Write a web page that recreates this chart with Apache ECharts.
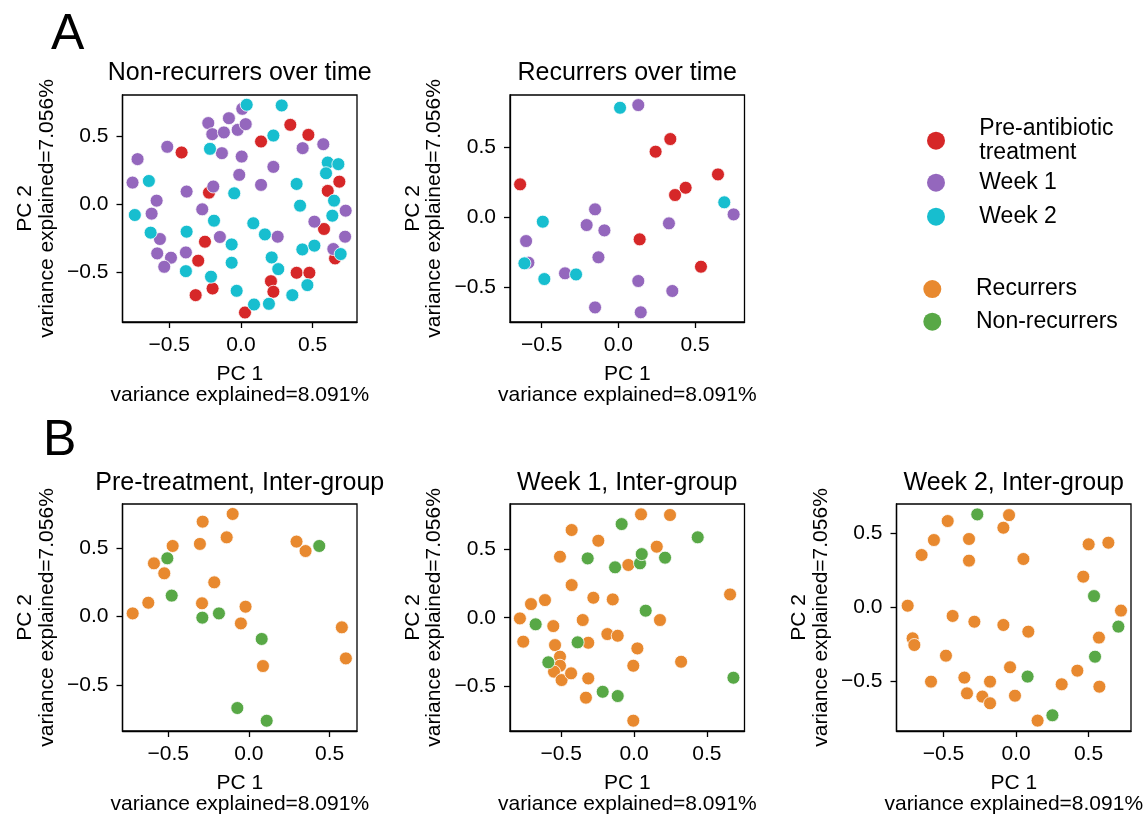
<!DOCTYPE html>
<html>
<head>
<meta charset="utf-8">
<script src="https://cdn.jsdelivr.net/npm/echarts@6/dist/echarts.min.js"></script>
<style>
html,body{margin:0;padding:0;background:#fff;}
#c{width:1146px;height:817px;}
</style>
</head>
<body>
<div id="c"></div>
<script>
// ---------- text ----------
const panelTitles = ['Non-recurrers over time', 'Recurrers over time',
  'Pre-treatment, Inter-group', 'Week 1, Inter-group', 'Week 2, Inter-group'];
const xAxisName = 'PC 1\nvariance explained=8.091%';
const yAxisName = 'PC 2\nvariance explained=7.056%';
const tickValues = [-0.5, 0, 0.5];
const timeNames = ['Pre-antibiotic treatment', 'Week 1', 'Week 2'];
const groupNames = ['Recurrers', 'Non-recurrers'];
const timeColors = ['#d62728', '#9467bd', '#17becf'];
const groupColors = ['#e8892f', '#58a846'];

// ---------- A: Non-recurrers over time ----------
const nrPre = [[-0.414,0.382],[0.140,0.463],[0.344,0.586],[0.470,0.512],[-0.223,0.086],[-0.251,-0.276],
  [-0.298,-0.416],[-0.316,-0.670],[-0.198,-0.621],[0.209,-0.567],[0.226,-0.645],[0.388,-0.505],
  [0.477,-0.505],[0.028,-0.798],[0.605,0.099],[0.686,0.167],[0.579,-0.182],[0.656,-0.399]];
const nrWeek1 = [[-0.721,0.333],[-0.756,0.160],[-0.588,0.027],[-0.623,-0.069],[-0.565,-0.256],[-0.584,-0.362],
  [-0.488,-0.394],[-0.535,-0.461],[-0.514,0.424],[-0.379,0.094],[-0.384,-0.355],[-0.270,-0.037],
  [-0.193,0.131],[-0.147,-0.241],[-0.228,0.599],[-0.200,0.517],[-0.133,0.377],[-0.119,0.530],
  [-0.084,0.635],[-0.023,0.549],[0.009,0.704],[0.033,0.591],[0.005,0.352],[-0.012,0.217],
  [0.140,0.143],[0.226,0.276],[0.256,-0.239],[0.430,0.414],[0.574,0.443],[0.512,-0.128],
  [0.730,-0.047],[0.726,-0.239],[0.644,-0.330]];
const nrWeek2 = [[-0.642,0.172],[-0.740,-0.079],[-0.630,-0.209],[-0.379,-0.202],[-0.384,-0.493],[-0.209,-0.534],
  [-0.216,0.409],[-0.188,-0.121],[-0.065,-0.296],[-0.065,-0.431],[-0.047,0.081],[-0.030,-0.638],
  [0.040,0.734],[0.086,-0.140],[0.167,-0.222],[0.226,0.507],[0.284,0.729],[0.214,-0.392],
  [0.260,-0.478],[0.091,-0.739],[0.195,-0.734],[0.358,-0.670],[0.463,-0.596],[0.428,-0.333],
  [0.512,-0.305],[0.388,0.150],[0.412,-0.010],[0.605,0.308],[0.679,0.296],[0.593,0.229],
  [0.649,0.027],[0.637,-0.084],[0.695,-0.367]];

// ---------- A: Recurrers over time ----------
const rPre = [[-0.641,0.233],[0.243,0.466],[0.339,0.556],[0.370,0.157],[0.439,0.209],[0.650,0.304],
  [0.139,-0.159],[0.539,-0.354]];
const rWeek1 = [[0.130,0.798],[-0.152,0.055],[-0.207,-0.057],[-0.091,-0.095],[-0.602,-0.171],[-0.587,-0.325],
  [-0.348,-0.401],[-0.130,-0.287],[0.330,-0.045],[0.752,0.019],[0.130,-0.456],[0.352,-0.527],
  [-0.152,-0.644],[0.146,-0.679]];
const rWeek2 = [[0.011,0.779],[-0.493,-0.033],[-0.613,-0.330],[-0.483,-0.442],[-0.276,-0.409],[0.691,0.105]];

// ---------- B: Pre-treatment ----------
const preRec = [[-0.721,0.024],[-0.624,0.102],[-0.589,0.390],[-0.525,0.317],[-0.473,0.517],[-0.304,0.532],
  [-0.287,0.695],[-0.101,0.751],[-0.138,0.580],[-0.215,0.251],[-0.291,0.098],[-0.021,0.073],
  [-0.050,-0.049],[0.087,-0.361],[0.295,0.549],[0.351,0.480],[0.576,-0.078],[0.601,-0.305]];
const preNon = [[-0.506,0.427],[-0.479,0.154],[-0.289,-0.007],[-0.186,0.024],[0.079,-0.163],[0.436,0.517],
  [-0.072,-0.668],[0.110,-0.761]];

// ---------- B: Week 1 ----------
const w1Rec = [[-0.783,-0.005],[-0.760,-0.174],[-0.707,0.099],[-0.611,0.128],[-0.554,-0.061],[-0.542,-0.199],
  [-0.508,-0.283],[-0.508,-0.349],[-0.549,-0.392],[-0.497,-0.453],[-0.432,-0.404],[-0.508,0.443],
  [-0.428,0.637],[-0.428,0.237],[-0.352,-0.017],[-0.314,-0.182],[-0.314,-0.441],[-0.330,-0.581],
  [-0.279,0.145],[-0.245,0.559],[-0.183,-0.119],[-0.112,-0.131],[-0.146,0.133],[-0.039,0.383],
  [0.023,-0.223],[-0.005,-0.349],[-0.005,-0.748],[0.048,0.751],[0.247,0.746],[0.156,0.516],
  [0.178,-0.017],[0.323,-0.320],[0.659,0.169]];
const w1Non = [[-0.675,-0.048],[-0.588,-0.324],[-0.387,-0.179],[-0.318,0.431],[-0.215,-0.538],[-0.112,-0.569],
  [-0.130,0.366],[-0.085,0.680],[0.041,0.395],[0.053,0.462],[0.213,0.436],[0.080,0.051],
  [0.437,0.584],[0.682,-0.436]];

// ---------- B: Week 2 ----------
const w2Rec = [[-0.747,0.011],[-0.713,-0.209],[-0.701,-0.254],[-0.651,0.353],[-0.566,0.454],[-0.586,-0.501],
  [-0.471,0.582],[-0.483,-0.326],[-0.437,-0.058],[-0.324,0.461],[-0.324,0.315],[-0.356,-0.474],
  [-0.338,-0.580],[-0.287,-0.097],[-0.232,-0.602],[-0.179,-0.647],[-0.179,-0.501],[-0.087,0.537],
  [-0.048,0.622],[-0.087,-0.119],[-0.041,-0.404],[-0.007,-0.596],[0.051,0.326],[0.085,-0.164],
  [0.149,-0.764],[0.315,-0.519],[0.423,-0.427],[0.464,0.207],[0.501,0.425],[0.637,0.436],
  [0.572,-0.204],[0.575,-0.535],[0.724,-0.022]];
const w2Non = [[-0.267,0.627],[0.538,0.076],[0.706,-0.130],[0.545,-0.333],[0.080,-0.467],[0.251,-0.728]];

// ---------- layout (pixels / axis ranges) ----------
const FONT = '"Liberation Sans", Arial, Helvetica, sans-serif';
const panels = [
  {left:122.5, top:95,  xMin:-0.826, xMax:0.809, yMin:-0.868, yMax:0.806,
   sets:[[timeNames[0],nrPre,timeColors[0]],[timeNames[1],nrWeek1,timeColors[1]],[timeNames[2],nrWeek2,timeColors[2]]]},
  {left:510,   top:95,  xMin:-0.707, xMax:0.823, yMin:-0.748, yMax:0.870,
   sets:[[timeNames[0],rPre,timeColors[0]],[timeNames[1],rWeek1,timeColors[1]],[timeNames[2],rWeek2,timeColors[2]]]},
  {left:122.5, top:504, xMin:-0.784, xMax:0.670, yMin:-0.836, yMax:0.824,
   sets:[[groupNames[0],preRec,groupColors[0]],[groupNames[1],preNon,groupColors[1]]]},
  {left:510,   top:504, xMin:-0.851, xMax:0.758, yMin:-0.823, yMax:0.826,
   sets:[[groupNames[0],w1Rec,groupColors[0]],[groupNames[1],w1Non,groupColors[1]]]},
  {left:896.5, top:504, xMin:-0.824, xMax:0.793, yMin:-0.834, yMax:0.697,
   sets:[[groupNames[0],w2Rec,groupColors[0]],[groupNames[1],w2Non,groupColors[1]]]}
];
const W = 234.5, H = 227;

const fmt = v => (v < 0 ? '\u2212' : '') + Math.abs(v).toFixed(1);
const lineStyle = {color:'#000', width:1.3};

const grids = [], xAxes = [], yAxes = [], series = [], titles = [];
panels.forEach((p, i) => {
  grids.push({left:p.left, top:p.top, width:W, height:H, show:true, borderColor:'#000', borderWidth:1.3,
    backgroundColor:'transparent', containLabel:false, outerBoundsMode:'none'});
  const common = {
    gridIndex:i, type:'value', splitLine:{show:false},
    axisLine:{show:true, onZero:false, lineStyle},
    axisTick:{show:true, length:6, lineStyle, customValues:tickValues},
    axisLabel:{show:true, customValues:tickValues, formatter:fmt, fontSize:21, color:'#000', fontFamily:FONT},
    nameLocation:'middle',
    nameTextStyle:{fontSize:21, lineHeight:21.5, color:'#000', fontFamily:FONT}
  };
  xAxes.push(Object.assign({}, common, {min:p.xMin, max:p.xMax, name:xAxisName, nameGap:41,
    axisLabel:Object.assign({}, common.axisLabel, {margin:13})}));
  yAxes.push(Object.assign({}, common, {min:p.yMin, max:p.yMax, name:yAxisName, nameGap:65, nameRotate:90,
    axisLabel:Object.assign({}, common.axisLabel, {margin:14})}));
  p.sets.forEach(s => {
    series.push({type:'scatter', name:s[0], xAxisIndex:i, yAxisIndex:i, data:s[1], symbol:'circle', symbolSize:13,
      itemStyle:{color:s[2], borderColor:'#fff', borderWidth:0.8, opacity:1}, emphasis:{disabled:true}});
  });
  titles.push({text:panelTitles[i], left:p.left + W / 2, top:p.top === 95 ? 60.5 : 470.2, textAlign:'center', padding:0,
    textStyle:{fontSize:25, fontWeight:'normal', color:'#000', fontFamily:FONT}});
});
titles.push({text:'A', left:51, top:10.5, padding:0, textStyle:{fontSize:50, fontWeight:'normal', color:'#000', fontFamily:FONT}});
titles.push({text:'B', left:43, top:416.5, padding:0, textStyle:{fontSize:50, fontWeight:'normal', color:'#000', fontFamily:FONT}});

const legendText = {fontSize:23, lineHeight:23.3, color:'#000', fontFamily:FONT};
function leg(name, left, top, padLeft, extra) {
  return Object.assign({data:[name], left, top, orient:'vertical', padding:0, itemWidth:18, itemHeight:18,
    icon:'circle', selectedMode:false, itemStyle:{borderWidth:0},
    textStyle:Object.assign({}, legendText, {padding:[0,0,0,padLeft]})}, extra || {});
}
const legends = [
  leg(timeNames[0], 927, 112.9, 29.3, {formatter:() => 'Pre-antibiotic\ntreatment',
    textStyle:Object.assign({}, legendText, {padding:[0,0,9,29.3]})}),
  leg(timeNames[1], 927, 171, 29.3),
  leg(timeNames[2], 927, 205, 29.3),
  leg(groupNames[0], 923.3, 277.4, 29.7),
  leg(groupNames[1], 923.3, 310, 29.7)
];

const chart = echarts.init(document.getElementById('c'), null, {renderer:'canvas'});
chart.setOption({
  animation:false,
  backgroundColor:'#fff',
  textStyle:{fontFamily:FONT},
  title:titles,
  legend:legends,
  grid:grids,
  xAxis:xAxes,
  yAxis:yAxes,
  series:series
});
</script>
</body>
</html>
